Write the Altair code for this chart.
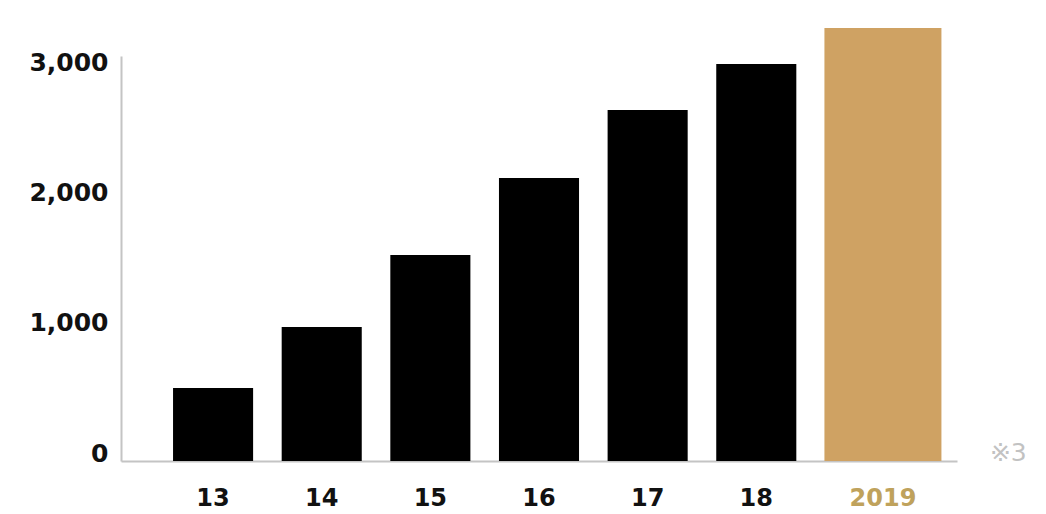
import altair as alt
import pandas as pd

years = ["13", "14", "15", "16", "17", "18", "2019"]
values = [562, 1031, 1585, 2177, 2700, 3054, 3331]
highlight = "2019"
note = "※3"

df = pd.DataFrame({"year": years, "value": values})

FONT = "DejaVu Sans"
BLACK = "#000000"
GOLD = "#cfa263"
GOLD_LABEL = "#bfa25c"
AXIS_GRAY = "#c4c4c4"

x_enc = alt.X(
    "year:N",
    sort=years,
    title=None,
    scale=alt.Scale(paddingInner=0.263, paddingOuter=0.479),
    axis=alt.Axis(
        labelAngle=0,
        ticks=False,
        domain=True,
        domainColor=AXIS_GRAY,
        domainWidth=2,
        labelFont=FONT,
        labelFontWeight="bold",
        labelFontSize=24,
        labelPadding=25,
        labelColor=alt.expr(f"datum.value == '{highlight}' ? '{GOLD_LABEL}' : '#111111'"),
        labelOffset=alt.expr(f"datum.value == '{highlight}' ? 18 : 0"),
    ),
)
y_enc = alt.Y(
    "value:Q",
    title=None,
    scale=alt.Scale(domain=[0, 3115], nice=False, zero=True),
    axis=alt.Axis(
        values=[0, 1000, 2000, 3000],
        format=",d",
        ticks=False,
        grid=False,
        domain=True,
        domainColor=AXIS_GRAY,
        domainWidth=2,
        labelFont=FONT,
        labelFontWeight="bold",
        labelFontSize=25,
        labelPadding=13,
        labelOffset=-8,
        labelColor="#111111",
    ),
)

base = alt.Chart(df)

black_bars = base.transform_filter(alt.datum.year != highlight).mark_bar(
    color=BLACK
).encode(x=x_enc, y=y_enc)

gold_bar = base.transform_filter(alt.datum.year == highlight).mark_bar(
    color=GOLD, width=117, xOffset=18
).encode(x=x_enc, y=y_enc)

note_text = alt.Chart(pd.DataFrame({"t": [note]})).mark_text(
    font=FONT, fontSize=25, color="#c2c2c2", align="left", baseline="middle", dx=125, dy=-8
).encode(x=alt.X("x:N", sort=years), y=alt.Y("y:Q"), text="t:N").transform_calculate(
    x=f"'{highlight}'", y="0"
)

chart = (
    alt.layer(black_bars, gold_bar, note_text)
    .properties(
        width=836,
        height=405,
        padding={"left": 121, "top": 56, "right": 89, "bottom": 53},
        autosize=alt.AutoSizeParams(type="none"),
        background="white",
    )
    .configure_view(stroke=None)
)

chart.save("out.html", embed_options={"renderer": "svg", "actions": False})
